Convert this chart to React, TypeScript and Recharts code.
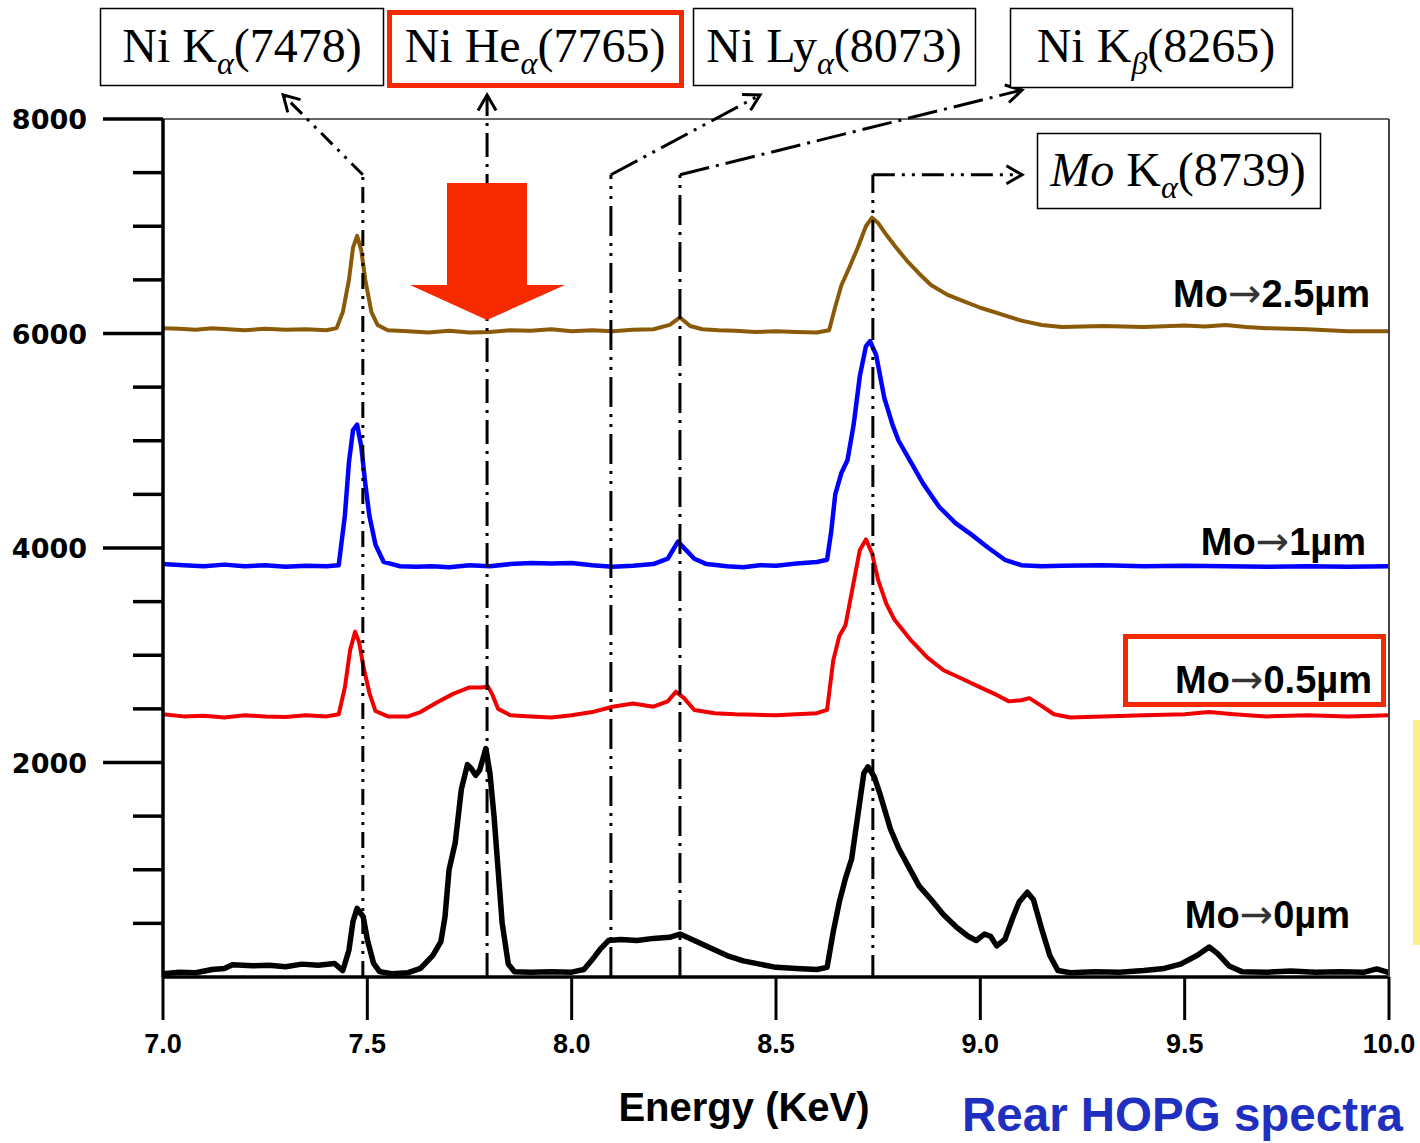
import React from 'react';
import { LineChart, Line, XAxis, YAxis, ReferenceLine } from 'recharts';

// ---------- data (energy keV, counts) ----------
const mo25: [number, number][] = [
  [7.0, 6050], [7.04, 6045], [7.08, 6035], [7.12, 6050], [7.16, 6040], [7.2, 6030], [7.25, 6045], [7.3, 6035],
  [7.35, 6040], [7.4, 6030], [7.425, 6050], [7.44, 6200], [7.455, 6500], [7.465, 6800], [7.475, 6910],
  [7.485, 6780], [7.495, 6500], [7.51, 6200], [7.525, 6080], [7.55, 6030], [7.6, 6020], [7.65, 6010],
  [7.7, 6025], [7.75, 6010], [7.8, 6015], [7.85, 6030], [7.9, 6025], [7.95, 6040], [8.0, 6020], [8.05, 6030],
  [8.1, 6020], [8.15, 6035], [8.2, 6040], [8.24, 6080], [8.265, 6150], [8.29, 6070], [8.32, 6040],
  [8.36, 6030], [8.4, 6025], [8.45, 6015], [8.5, 6020], [8.55, 6015], [8.6, 6010], [8.63, 6030],
  [8.645, 6250], [8.66, 6450], [8.68, 6620], [8.7, 6800], [8.72, 7000], [8.735, 7080], [8.75, 7030],
  [8.77, 6920], [8.79, 6820], [8.82, 6680], [8.85, 6560], [8.88, 6450], [8.92, 6360], [8.96, 6300],
  [9.0, 6240], [9.05, 6180], [9.1, 6120], [9.15, 6080], [9.2, 6060], [9.3, 6070], [9.4, 6060], [9.5, 6075],
  [9.55, 6065], [9.6, 6080], [9.65, 6060], [9.7, 6050], [9.8, 6040], [9.9, 6020], [10.0, 6020],
];

const mo1: [number, number][] = [
  [7.0, 3850], [7.05, 3840], [7.1, 3830], [7.15, 3845], [7.2, 3830], [7.25, 3840], [7.3, 3825], [7.35, 3835],
  [7.4, 3830], [7.43, 3840], [7.445, 4300], [7.455, 4800], [7.465, 5100], [7.475, 5150], [7.485, 4950],
  [7.495, 4600], [7.505, 4300], [7.52, 4030], [7.54, 3870], [7.58, 3830], [7.62, 3825], [7.66, 3830],
  [7.7, 3820], [7.75, 3840], [7.8, 3830], [7.85, 3850], [7.9, 3860], [7.95, 3855], [8.0, 3860], [8.05, 3840],
  [8.1, 3825], [8.15, 3835], [8.2, 3850], [8.235, 3900], [8.26, 4060], [8.28, 3980], [8.3, 3900],
  [8.33, 3850], [8.38, 3830], [8.42, 3820], [8.46, 3840], [8.5, 3835], [8.55, 3855], [8.6, 3870],
  [8.625, 3890], [8.635, 4150], [8.645, 4500], [8.66, 4700], [8.675, 4820], [8.69, 5150], [8.705, 5600],
  [8.72, 5880], [8.73, 5930], [8.745, 5800], [8.765, 5400], [8.785, 5150], [8.8, 5000], [8.83, 4800],
  [8.86, 4600], [8.9, 4380], [8.94, 4230], [8.98, 4120], [9.02, 4000], [9.06, 3890], [9.1, 3840],
  [9.15, 3830], [9.2, 3835], [9.3, 3840], [9.4, 3830], [9.5, 3835], [9.6, 3830], [9.7, 3825], [9.8, 3830],
  [9.9, 3825], [10.0, 3830],
];

const mo05: [number, number][] = [
  [7.0, 2450], [7.05, 2430], [7.1, 2435], [7.15, 2420], [7.2, 2440], [7.25, 2430], [7.3, 2425], [7.35, 2440],
  [7.4, 2430], [7.43, 2450], [7.445, 2700], [7.458, 3050], [7.47, 3220], [7.48, 3120], [7.49, 2900],
  [7.505, 2650], [7.52, 2480], [7.55, 2430], [7.6, 2430], [7.63, 2470], [7.67, 2560], [7.71, 2640],
  [7.75, 2700], [7.78, 2700], [7.795, 2710], [7.805, 2640], [7.82, 2500], [7.85, 2440], [7.9, 2430],
  [7.95, 2420], [8.0, 2440], [8.05, 2470], [8.1, 2520], [8.15, 2550], [8.2, 2520], [8.235, 2570],
  [8.255, 2660], [8.275, 2600], [8.3, 2490], [8.35, 2460], [8.4, 2450], [8.45, 2445], [8.5, 2440],
  [8.55, 2450], [8.6, 2460], [8.625, 2490], [8.64, 2950], [8.655, 3180], [8.67, 3280], [8.69, 3680],
  [8.705, 3980], [8.72, 4080], [8.735, 3950], [8.75, 3700], [8.77, 3480], [8.79, 3330], [8.83, 3140],
  [8.87, 2980], [8.91, 2860], [8.95, 2790], [9.0, 2700], [9.04, 2630], [9.07, 2570], [9.1, 2580],
  [9.12, 2600], [9.145, 2540], [9.18, 2450], [9.22, 2420], [9.3, 2430], [9.4, 2440], [9.5, 2450],
  [9.56, 2470], [9.62, 2450], [9.7, 2430], [9.8, 2440], [9.9, 2430], [10.0, 2440],
];

const mo0: [number, number][] = [
  [7.0, 30], [7.04, 45], [7.08, 40], [7.12, 70], [7.15, 80], [7.17, 115], [7.22, 105], [7.26, 110],
  [7.3, 95], [7.34, 120], [7.38, 110], [7.42, 125], [7.44, 60], [7.455, 250], [7.465, 520], [7.475, 640],
  [7.49, 560], [7.5, 350], [7.515, 130], [7.53, 50], [7.56, 30], [7.6, 40], [7.63, 80], [7.66, 200],
  [7.68, 330], [7.69, 560], [7.7, 1000], [7.715, 1250], [7.73, 1750], [7.745, 1980], [7.755, 1940],
  [7.765, 1880], [7.775, 1930], [7.79, 2130], [7.8, 1900], [7.81, 1500], [7.82, 1000], [7.83, 500],
  [7.845, 120], [7.86, 50], [7.9, 45], [7.95, 50], [8.0, 45], [8.03, 70], [8.05, 160], [8.07, 260],
  [8.09, 340], [8.12, 350], [8.16, 340], [8.2, 360], [8.24, 370], [8.265, 400], [8.3, 340], [8.34, 270],
  [8.38, 200], [8.42, 150], [8.46, 120], [8.5, 90], [8.55, 80], [8.6, 70], [8.625, 90], [8.64, 420],
  [8.655, 700], [8.67, 920], [8.685, 1100], [8.7, 1500], [8.715, 1900], [8.725, 1960], [8.74, 1870],
  [8.755, 1700], [8.78, 1380], [8.8, 1200], [8.82, 1060], [8.85, 850], [8.88, 720], [8.91, 580],
  [8.94, 470], [8.97, 380], [8.99, 340], [9.01, 400], [9.025, 380], [9.04, 290], [9.06, 350], [9.08, 560],
  [9.095, 700], [9.115, 790], [9.13, 720], [9.15, 450], [9.17, 200], [9.19, 60], [9.22, 40], [9.28, 50],
  [9.34, 45], [9.4, 60], [9.45, 80], [9.49, 120], [9.53, 200], [9.56, 280], [9.58, 220], [9.61, 100],
  [9.64, 50], [9.7, 45], [9.76, 55], [9.82, 45], [9.88, 50], [9.94, 45], [9.97, 75], [10.0, 40],
];

const xTicks = [7.0, 7.5, 8.0, 8.5, 9.0, 9.5, 10.0];
const yTicks = [500, 1000, 1500, 2000, 2500, 3000, 3500, 4000, 4500, 5000, 5500, 6000, 6500, 7000, 7500, 8000];

// line-identification guides: vertical at x, then leg to (tx, ty)
const CORNER = 7480;
const guides = [
  { x: 7.489, tx: 7.294, ty: 8224, dash: '16 7 3 7 3 7' },
  { x: 7.793, tx: 7.793, ty: 8224, dash: '24 7 3 7' },
  { x: 8.096, tx: 8.461, ty: 8224, dash: '30 7 3 7 3 7' },
  { x: 8.265, tx: 9.102, ty: 8270, dash: '30 7 3 7' },
  { x: 8.737, tx: 9.102, ty: CORNER, dash: '22 7 3 7 3 7' },
];

const toPts = (a: [number, number][]) => a.map(([x, y]) => ({ x, y }));

const seriesDefs = [
  { key: 'mo25', data: toPts(mo25), color: '#8a5a08', width: 4 },
  { key: 'mo1', data: toPts(mo1), color: '#0000ff', width: 4.5 },
  { key: 'mo05', data: toPts(mo05), color: '#f00000', width: 4 },
  { key: 'mo0', data: toPts(mo0), color: '#000000', width: 5.5 },
];

const LeftTick = (p: any) => {
  const { x, y, payload } = p;
  const v = payload.value as number;
  const major = v % 2000 === 0;
  return (
    <g>
      <line x1={x - (major ? 60 : 30)} x2={x} y1={y} y2={y} stroke="#000" strokeWidth={3.5} />
      {major && (
        <text x={x - 76} y={y + 10} textAnchor="end" fontFamily="DejaVu Sans" fontWeight="bold" fontSize={27} fill="#000">
          {v}
        </text>
      )}
    </g>
  );
};

const RightTick = (p: any) => {
  const { x, y, payload } = p;
  const v = payload.value as number;
  const major = v % 2000 === 0;
  return <line x1={x - (major ? 60 : 30)} x2={x} y1={y} y2={y} stroke="#444" strokeWidth={2} />;
};

const BottomTick = (p: any) => {
  const { x, y, payload } = p;
  return (
    <g>
      <line x1={x} x2={x} y1={y} y2={y + 43} stroke="#000" strokeWidth={3} />
      <text x={x} y={y + 76} textAnchor="middle" fontFamily="Liberation Sans" fontWeight="bold" fontSize={27} fill="#000">
        {(payload.value as number).toFixed(1)}
      </text>
    </g>
  );
};

const makeGuideShape = (dash: string, arrow: boolean) => (p: any) => {
  const { x1, y1, x2, y2 } = p;
  let head = null;
  if (arrow) {
    const a = Math.atan2(y2 - y1, x2 - x1);
    const L = 18;
    const s = Math.PI / 6;
    const ax = x2 - L * Math.cos(a - s);
    const ay = y2 - L * Math.sin(a - s);
    const bx = x2 - L * Math.cos(a + s);
    const by = y2 - L * Math.sin(a + s);
    head = <path d={`M${ax},${ay} L${x2},${y2} L${bx},${by}`} fill="none" stroke="#000" strokeWidth={3} />;
  }
  return (
    <g>
      <line x1={x1} y1={y1} x2={x2} y2={y2} stroke="#000" strokeWidth={3} strokeDasharray={dash} />
      {head}
    </g>
  );
};

const serif = 'Liberation Serif, Times New Roman, serif';
const sans = 'Liberation Sans, Arial, sans-serif';

const TopLabel = ({ cx, y, pre, preItalic, sub, post }: any) => (
  <text x={cx} y={y} textAnchor="middle" fontFamily={serif} fontSize={48} fill="#000">
    {preItalic && <tspan fontStyle="italic">{preItalic}</tspan>}
    <tspan>{pre}</tspan>
    <tspan fontStyle="italic" fontSize={32} dy={12}>{sub}</tspan>
    <tspan dy={-12}>{post}</tspan>
  </text>
);

const SeriesLabel = ({ x, y, val }: any) => (
  <text x={x} y={y} textAnchor="end" fontFamily={sans} fontWeight="bold" fontSize={38} fill="#000">
    <tspan>Mo</tspan>
    <tspan fontFamily="DejaVu Sans" fontWeight="normal" fill="#333" fontSize={40}>→</tspan>
    <tspan>{val}</tspan>
  </text>
);

export default function App() {
  return (
    <div style={{ position: 'absolute', left: 0, top: 0, width: 1420, height: 1143, background: '#fff', overflow: 'hidden' }}>
      <div style={{ position: 'absolute', left: 0, top: 0 }}>
        <LineChart width={1420} height={1143} margin={{ top: 119, right: 0, bottom: 0, left: 0 }}>
          <XAxis
            dataKey="x"
            type="number"
            domain={[7, 10]}
            ticks={xTicks}
            height={166}
            tickSize={0}
            tickMargin={0}
            axisLine={{ stroke: '#000', strokeWidth: 3.5 }}
            tick={<BottomTick />}
            allowDataOverflow
          />
          <YAxis
            yAxisId="l"
            type="number"
            domain={[0, 8000]}
            ticks={yTicks}
            width={163}
            tickSize={0}
            tickMargin={0}
            axisLine={{ stroke: '#000', strokeWidth: 3.5 }}
            tick={<LeftTick />}
            allowDataOverflow
          />
          <YAxis
            yAxisId="r"
            orientation="right"
            type="number"
            domain={[0, 8000]}
            ticks={yTicks}
            width={31}
            tickSize={0}
            tickMargin={0}
            axisLine={{ stroke: '#444', strokeWidth: 2 }}
            tick={<RightTick />}
          />
          <ReferenceLine yAxisId="l" y={8000} stroke="#333" strokeWidth={1.5} />
          {seriesDefs.map((s) => (
            <Line
              key={s.key}
              yAxisId="l"
              data={s.data}
              dataKey="y"
              type="linear"
              stroke={s.color}
              strokeWidth={s.width}
              strokeLinejoin="round"
              dot={false}
              isAnimationActive={false}
            />
          ))}
          {guides.map((g, i) => (
            <ReferenceLine
              key={'v' + i}
              yAxisId="l"
              ifOverflow="visible"
              segment={[{ x: g.x, y: 0 }, { x: g.x, y: g.tx === g.x ? g.ty : CORNER }]}
              shape={makeGuideShape(g.dash, g.tx === g.x)}
            />
          ))}
          {guides
            .filter((g) => g.tx !== g.x)
            .map((g, i) => (
              <ReferenceLine
                key={'d' + i}
                yAxisId="l"
                ifOverflow="visible"
                segment={[{ x: g.x, y: CORNER }, { x: g.tx, y: g.ty }]}
                shape={makeGuideShape(g.dash, true)}
              />
            ))}
        </LineChart>
      </div>
      <svg width={1420} height={1143} style={{ position: 'absolute', left: 0, top: 0, pointerEvents: 'none' }}>
        {/* top identification boxes */}
        <rect x={100.5} y={8.5} width={283} height={77} fill="#fff" stroke="#000" strokeWidth={1.5} />
        <TopLabel cx={242} y={62} pre="Ni K" sub="α" post="(7478)" />
        <rect x={389.5} y={12.5} width={292} height={73} fill="#fff" stroke="#f52a00" strokeWidth={5} />
        <TopLabel cx={535} y={62} pre="Ni He" sub="α" post="(7765)" />
        <rect x={693.5} y={8.5} width={282} height={77} fill="#fff" stroke="#000" strokeWidth={1.5} />
        <TopLabel cx={834} y={62} pre="Ni Ly" sub="α" post="(8073)" />
        <rect x={1010.5} y={8.5} width={282} height={79} fill="#fff" stroke="#000" strokeWidth={1.5} />
        <TopLabel cx={1156} y={62} pre="Ni K" sub="β" post="(8265)" />
        <rect x={1037.5} y={133.5} width={283} height={75} fill="#fff" stroke="#000" strokeWidth={1.5} />
        <TopLabel cx={1178} y={186} preItalic="Mo" pre=" K" sub="α" post="(8739)" />

        {/* big red arrow */}
        <polygon points="447,183 527,183 527,285 565,285 487,320 410,285 447,285" fill="#f52a00" />

        {/* series labels */}
        <SeriesLabel x={1370} y={307} val="2.5µm" />
        <SeriesLabel x={1366} y={555} val="1µm" />
        <rect x={1125.5} y={636.5} width={258} height={68} fill="none" stroke="#f52a00" strokeWidth={5} />
        <SeriesLabel x={1372} y={693} val="0.5µm" />
        <SeriesLabel x={1350} y={928} val="0µm" />

        {/* side highlight */}
        <rect x={1413} y={720} width={8} height={225} fill="#fbef8e" />

        {/* axis title and caption */}
        <text x={744} y={1121} textAnchor="middle" fontFamily={sans} fontWeight="bold" fontSize={40} fill="#000">
          Energy (KeV)
        </text>
        <text x={962} y={1131} textAnchor="start" fontFamily={sans} fontWeight="bold" fontSize={47.5} fill="#1f30c0">
          Rear HOPG spectra
        </text>
      </svg>
    </div>
  );
}
